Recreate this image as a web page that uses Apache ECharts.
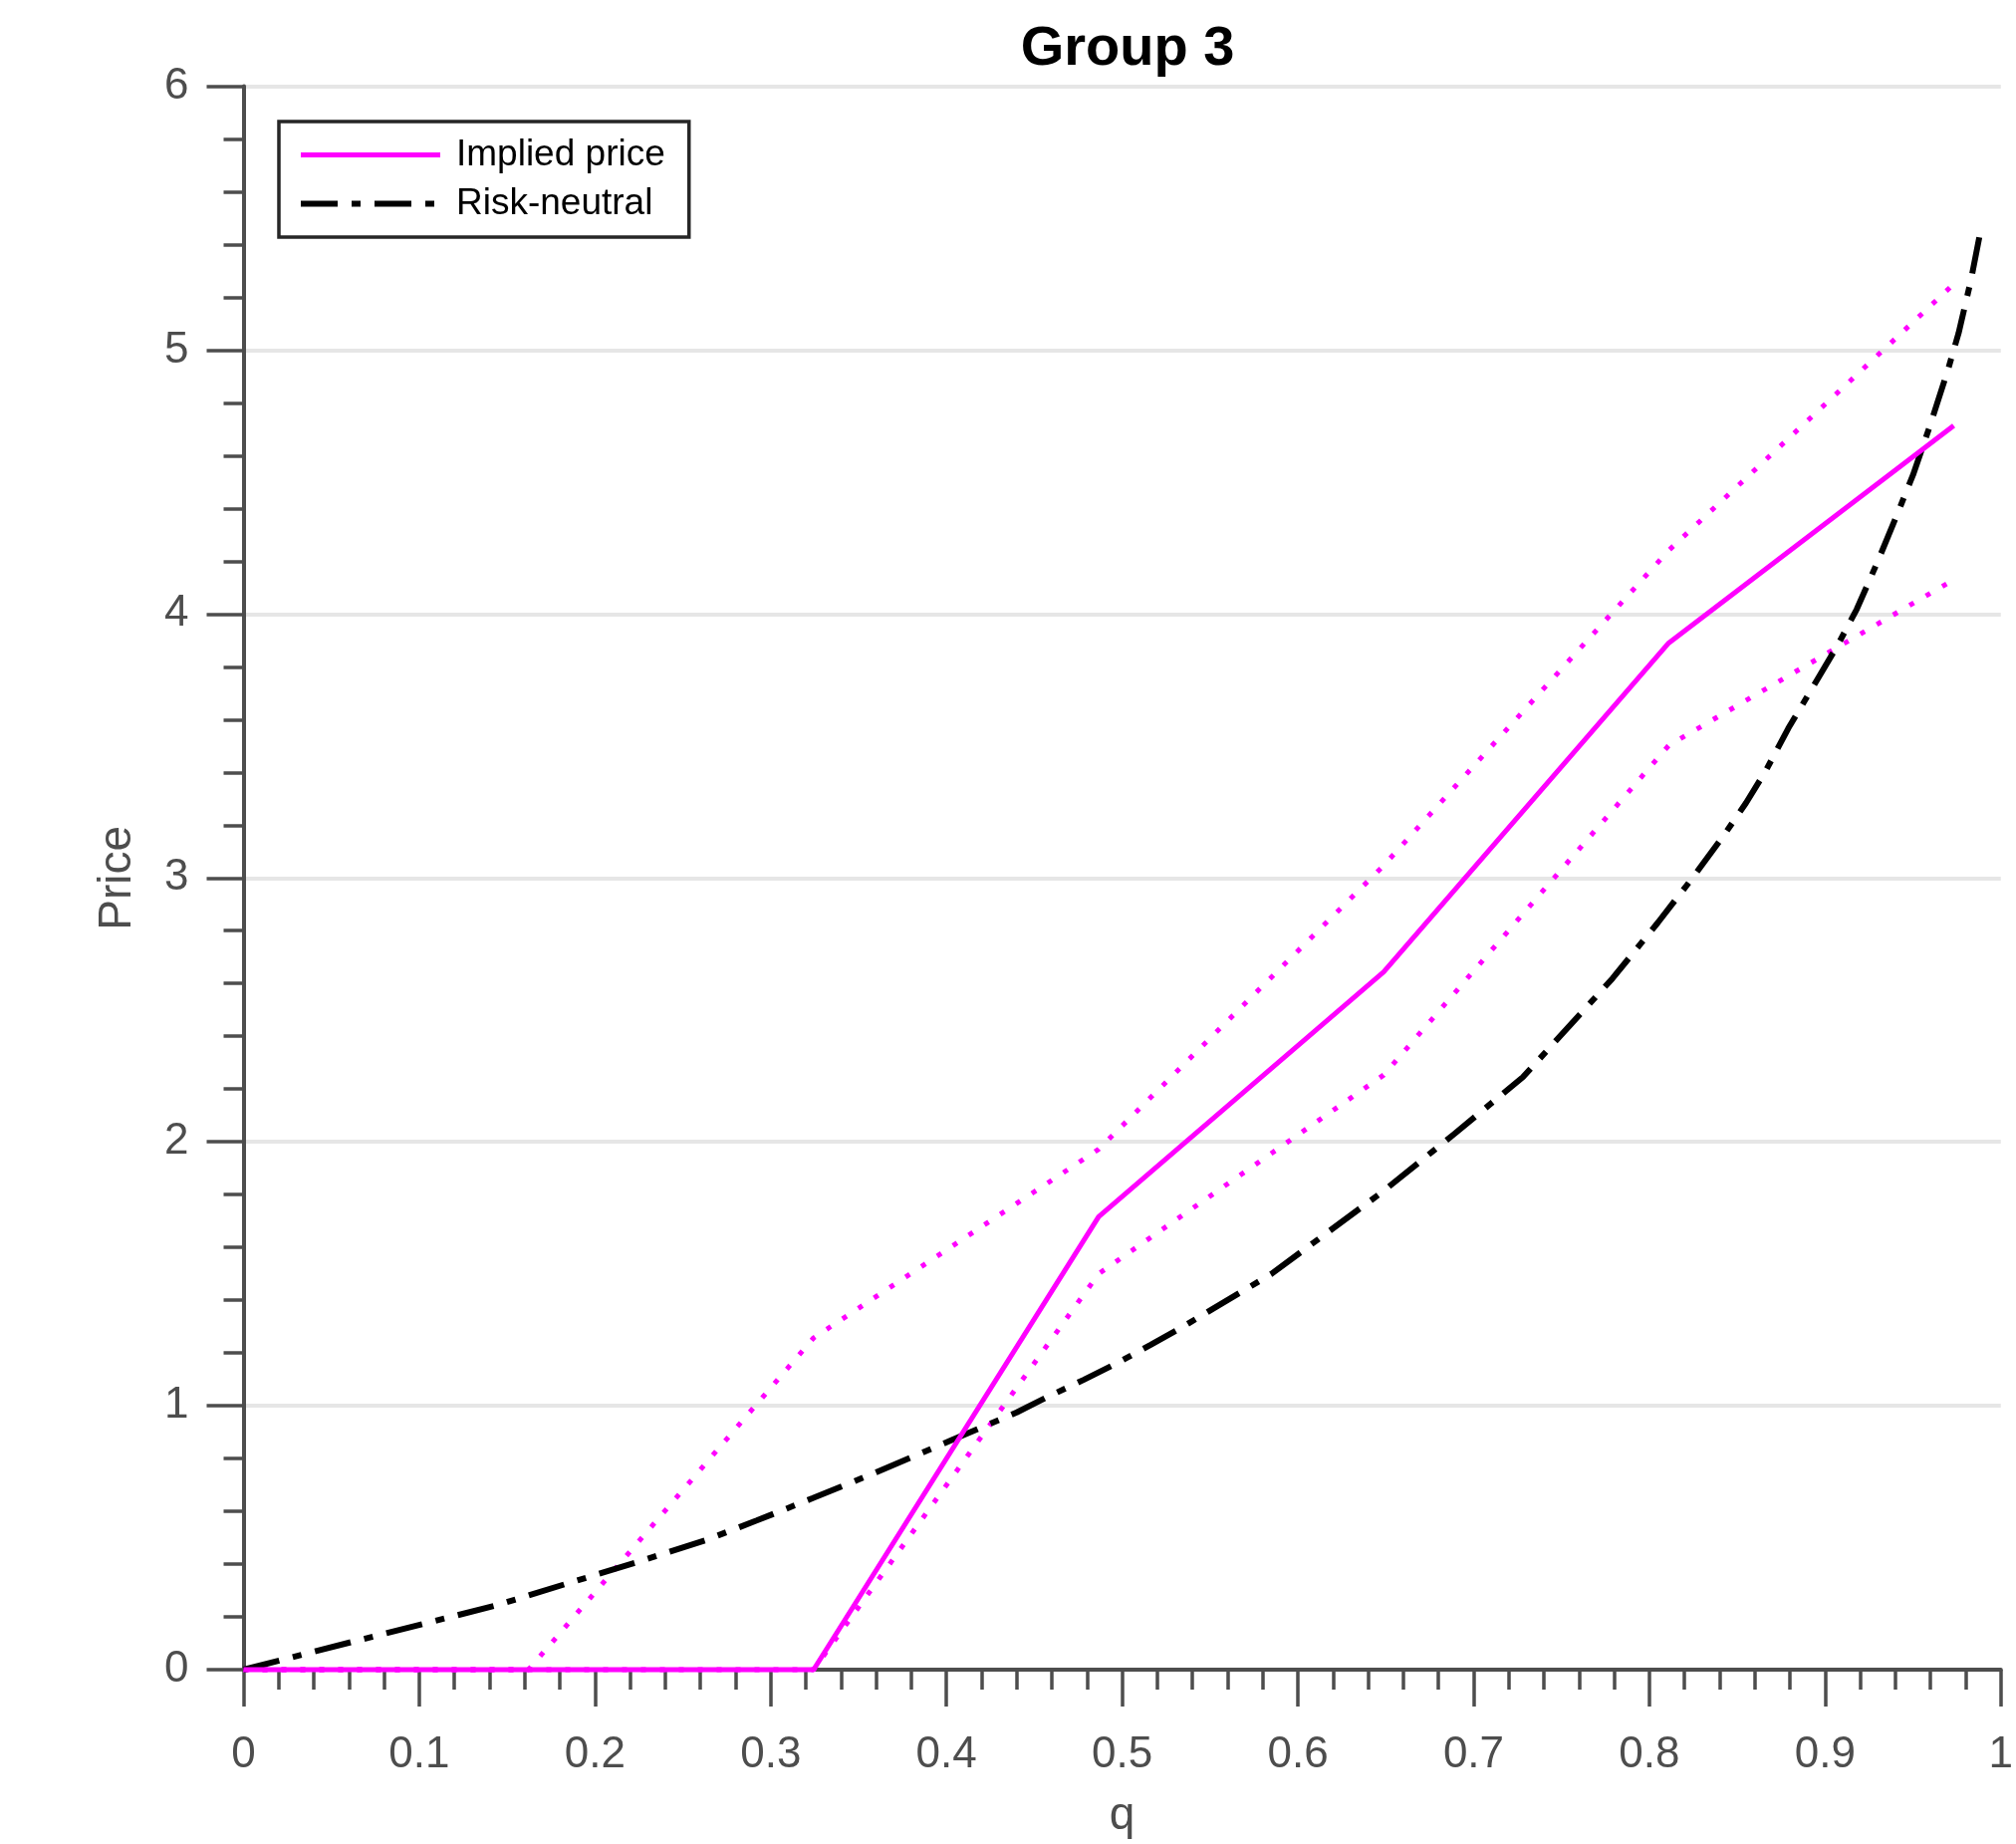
<!DOCTYPE html>
<html>
<head>
<meta charset="utf-8">
<script src="https://cdn.jsdelivr.net/npm/echarts@6/dist/echarts.min.js"></script>
<style>
html,body{margin:0;padding:0;background:#fff;}
#chart{width:2024px;height:1851px;}
</style>
</head>
<body>
<div id="chart"></div>
<script>
// ---- data ----
const titleText = 'Group 3';
const xName = 'q';
const yName = 'Price';
const legendNames = ['Implied price', 'Risk-neutral'];

// grid of q values for the implied-price series and its bands
const qGrid = [0, 0.1622, 0.3244, 0.4866, 0.6488, 0.811, 0.9732];
const impliedPrice = [0, 0, 0, 1.716, 2.644, 3.89, 4.714];
const upperBand = [0, 0, 1.257, 1.972, 3.047, 4.241, 5.25];
const lowerBand = [0, 0, 0, 1.5, 2.253, 3.502, 4.13];

// risk-neutral curve
const rnQ = [0, 0.061, 0.102, 0.143, 0.183, 0.223, 0.264, 0.292, 0.324, 0.359, 0.403, 0.440, 0.458, 0.478, 0.496, 0.516, 0.533, 0.552, 0.570, 0.585, 0.648, 0.689, 0.728, 0.762, 0.779, 0.805, 0.824, 0.842, 0.855, 0.866, 0.879, 0.907, 0.918, 0.930, 0.942, 0.950, 0.960, 0.970, 0.976, 0.983, 0.989];
const rnPrice = [0, 0.104, 0.173, 0.242, 0.324, 0.405, 0.493, 0.565, 0.65, 0.745, 0.87, 0.975, 1.035, 1.098, 1.158, 1.230, 1.293, 1.369, 1.44, 1.50, 1.81, 2.03, 2.245, 2.494, 2.619, 2.832, 2.995, 3.158, 3.284, 3.403, 3.566, 3.88, 4.018, 4.2, 4.394, 4.526, 4.72, 4.927, 5.065, 5.265, 5.47];

// axis ranges
const xMin = 0, xMax = 1, xStep = 0.1;
const yMin = 0, yMax = 6, yStep = 1;

const zip = (xs, ys) => xs.map((x, i) => [x, ys[i]]);

const FONT = '"Liberation Sans", Arial, Helvetica, sans-serif';
const AXIS_COLOR = '#4d4d4d';
const MAGENTA = '#ff00ff';
const SOLID_STYLE = {color: MAGENTA, width: 5, type: 'solid'};
const DOT_STYLE = {color: MAGENTA, width: 5, type: [5, 14], cap: 'butt'};
const DASHDOT_STYLE = {color: '#000', width: 6, type: [37, 14, 9, 14], cap: 'butt'};

const chart = echarts.init(document.getElementById('chart'), null, {renderer: 'canvas'});
chart.setOption({
  backgroundColor: '#ffffff',
  animation: false,
  title: {
    text: titleText,
    left: 1127,
    textAlign: 'center',
    top: 17,
    textStyle: {fontFamily: FONT, fontSize: 56, fontWeight: 'bold', color: '#000'}
  },
  legend: {
    data: [
      {name: legendNames[0], lineStyle: SOLID_STYLE},
      {name: legendNames[1], lineStyle: DASHDOT_STYLE}
    ],
    orient: 'vertical',
    left: 280,
    top: 122,
    padding: [15, 24, 15, 19],
    itemGap: 12,
    itemWidth: 140,
    itemHeight: 37,
    itemStyle: {opacity: 0},
    borderColor: '#262626',
    borderWidth: 3.5,
    backgroundColor: '#fff',
    textStyle: {fontFamily: FONT, fontSize: 37, color: '#000', padding: [0, 0, 0, 11]}
  },
  grid: {left: 244.5, right: 14, top: 86.5, bottom: 170, containLabel: false},
  xAxis: {
    type: 'value',
    min: xMin, max: xMax, interval: xStep,
    name: xName,
    nameLocation: 'middle',
    nameGap: 124,
    nameTextStyle: {fontFamily: FONT, fontSize: 46, color: AXIS_COLOR},
    axisLine: {show: true, onZero: false, lineStyle: {color: AXIS_COLOR, width: 4}},
    axisTick: {show: true, length: 37, lineStyle: {color: AXIS_COLOR, width: 3.5}},
    minorTick: {show: true, splitNumber: 5, length: 20, lineStyle: {color: AXIS_COLOR, width: 3.5}},
    axisLabel: {margin: 64, fontFamily: FONT, fontSize: 44, color: AXIS_COLOR},
    splitLine: {show: false}
  },
  yAxis: {
    type: 'value',
    min: yMin, max: yMax, interval: yStep,
    name: yName,
    nameLocation: 'middle',
    nameGap: 103,
    nameTextStyle: {fontFamily: FONT, fontSize: 46, color: AXIS_COLOR},
    axisLine: {show: true, onZero: false, lineStyle: {color: AXIS_COLOR, width: 4}},
    axisTick: {show: true, length: 37, lineStyle: {color: AXIS_COLOR, width: 3.5}},
    minorTick: {show: true, splitNumber: 5, length: 20, lineStyle: {color: AXIS_COLOR, width: 3.5}},
    axisLabel: {margin: 55, fontFamily: FONT, fontSize: 44, color: AXIS_COLOR},
    splitLine: {show: true, lineStyle: {color: '#e6e6e6', width: 4}}
  },
  series: [
    {
      name: 'Upper band', type: 'line', symbol: 'none', clip: false,
      data: zip(qGrid, upperBand),
      lineStyle: DOT_STYLE,
      z: 2
    },
    {
      name: 'Lower band', type: 'line', symbol: 'none', clip: false,
      data: zip(qGrid, lowerBand),
      lineStyle: DOT_STYLE,
      z: 2
    },
    {
      name: legendNames[1], type: 'line', symbol: 'none', clip: false,
      data: zip(rnQ, rnPrice),
      itemStyle: {color: '#000'},
      lineStyle: DASHDOT_STYLE,
      z: 3
    },
    {
      name: legendNames[0], type: 'line', symbol: 'none', clip: false,
      data: zip(qGrid, impliedPrice),
      itemStyle: {color: MAGENTA},
      lineStyle: SOLID_STYLE,
      z: 4
    }
  ]
});
</script>
</body>
</html>
